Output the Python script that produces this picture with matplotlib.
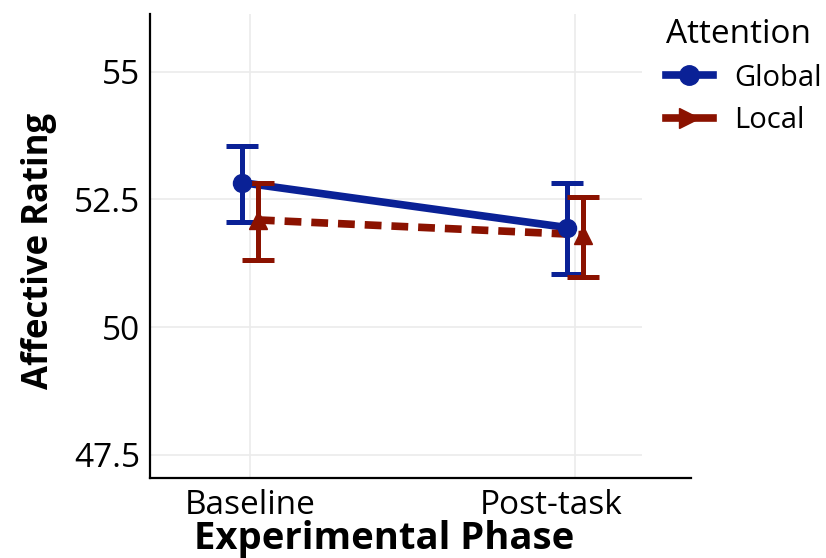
import numpy as np
import matplotlib.pyplot as plt
import matplotlib.transforms as mtransforms
from matplotlib.lines import Line2D

plt.rcParams['font.family'] = ['Open Sans', 'DejaVu Sans']

# data
phases = ['Baseline', 'Post-task']
groups = ['Global', 'Local']
means = {'Global': [52.83, 51.95], 'Local': [52.10, 51.81]}
upper = {'Global': [53.55, 52.83], 'Local': [52.83, 52.55]}
lower = {'Global': [52.05, 51.05], 'Local': [51.32, 50.99]}
yticks = [47.5, 50, 52.5, 55]
ytick_labels = ['47.5', '50', '52.5', '55']

colors = {'Global': '#0a2196', 'Local': '#8b1200'}
markers = {'Global': 'o', 'Local': '^'}
styles = {'Global': '-', 'Local': (0, (2.2, 1.3))}
dodge = {'Global': -0.024, 'Local': 0.024}

fig = plt.figure(figsize=(8.26, 5.58), dpi=100)
ax = fig.add_axes([0.1816, 0.1434, 0.655, 0.8315])

base = np.arange(1, len(phases) + 1)

# grid (panel area stops short of the axis end, like the original)
grid_end = 2.206
for y in yticks:
    ax.hlines(y, 0.692, grid_end, color='#ebebeb', lw=1.2, zorder=0)
for x in base:
    ax.axvline(x, color='#ebebeb', lw=1.2, zorder=0)

for g in groups:
    x = base + dodge[g]
    m = np.array(means[g])
    err = [m - np.array(lower[g]), np.array(upper[g]) - m]
    ax.plot(x, m, linestyle=styles[g], color=colors[g], lw=5.5, zorder=2)
    ax.errorbar(x, m, yerr=err, fmt='none', ecolor=colors[g], elinewidth=3.6,
                capsize=11.5, capthick=3.6, zorder=3)
    ax.plot(x, m, linestyle='none', marker=markers[g], color=colors[g],
            markersize=13, zorder=4)

ax.set_xlim(0.692, 2.357)
ax.set_ylim(47.05, 56.13)
ax.set_xticks(base)
ax.set_xticklabels(phases, fontsize=24)
ax.set_yticks(yticks)
ax.set_yticklabels(ytick_labels, fontsize=24)
ax.tick_params(axis='y', length=0, pad=7)
ax.tick_params(axis='x', length=0, pad=8)

# the second phase label sits a little left of its gridline in the original
shift = mtransforms.ScaledTranslation(-0.24, 0, fig.dpi_scale_trans)
lab = ax.get_xticklabels()[1]
lab.set_transform(lab.get_transform() + shift)

for s in ['top', 'right']:
    ax.spines[s].set_visible(False)
for s in ['left', 'bottom']:
    ax.spines[s].set_linewidth(1.6)
    ax.spines[s].set_color('black')

ax.set_xlabel('Experimental Phase', fontsize=27.5, fontweight='bold')
ax.xaxis.set_label_coords(0.4325, -0.09)
ax.set_ylabel('Affective Rating', fontsize=25, fontweight='bold')
ax.yaxis.set_label_coords(-0.172, 0.49)

handles = [
    Line2D([0], [0], color=colors['Global'], lw=5.5, marker='o', markersize=14),
    Line2D([0], [0], color=colors['Local'], lw=5.5, marker='>', markersize=14),
]
leg = fig.legend(handles, groups, title='Attention', loc='upper left',
                 bbox_to_anchor=(0.785, 1.0), frameon=False, fontsize=21,
                 title_fontsize=24, handlelength=1.6, labelspacing=0.45,
                 handletextpad=0.75, borderpad=0.1, alignment='left')

fig.savefig('out.png', dpi=100)
